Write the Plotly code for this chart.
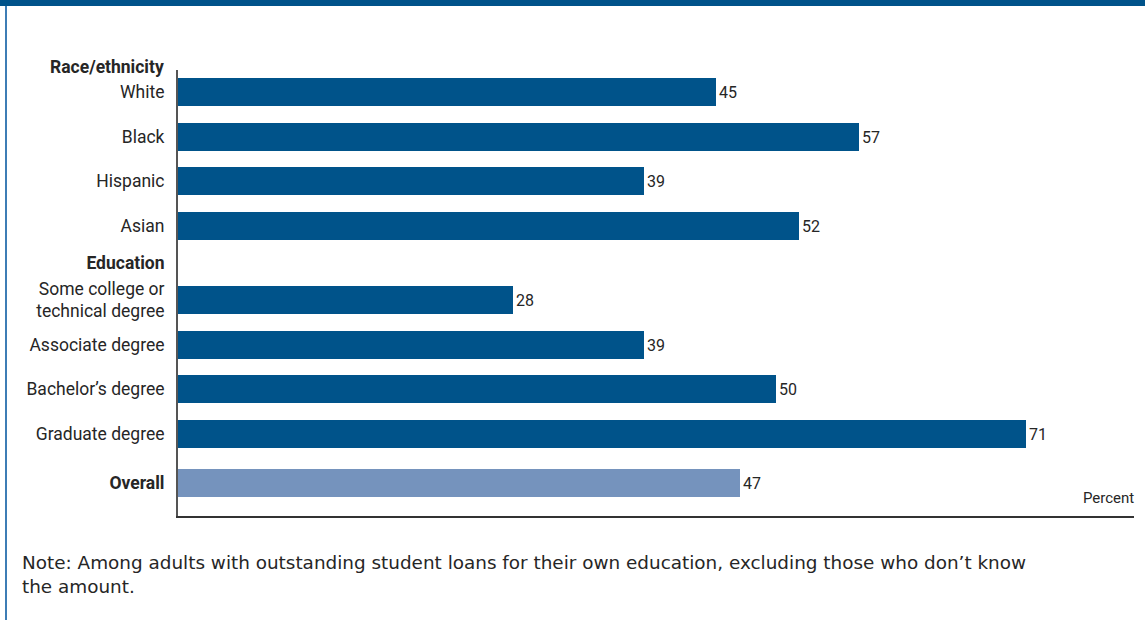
import plotly.graph_objects as go

# ---- data ----
race_labels = ["White", "Black", "Hispanic", "Asian"]
race_values = [45, 57, 39, 52]
edu_labels = ["Some college or<br>technical degree", "Associate degree", "Bachelor\u2019s degree", "Graduate degree"]
edu_values = [28, 39, 50, 71]
overall_label = "<b>Overall</b>"
overall_value = 47
group_titles = ["Race/ethnicity", "Education"]
unit_label = "Percent"
note_text = "Note: Among adults with outstanding student loans for their own education, excluding those who don\u2019t know<br>the amount."

# ---- layout helpers ----
W, H = 1145, 620
L, R, T, B = 178, 11, 70, 104
pw, ph = W - L - R, H - T - B

def px_x(p):
    return (p - L) / pw

def px_y(p):
    return (H - B - p) / ph

DARK = "#00538A"
LIGHT = "#7593BD"
TXT = "#262626"
LABEL_FONT = "Roboto, sans-serif"

race_pos = [i for i in range(len(race_labels))]
edu_start = len(race_labels) + 0.67
edu_pos = [edu_start + i for i in range(len(edu_labels))]
overall_pos = edu_pos[-1] + 1.11
edu_header_pos = race_pos[-1] + 0.84

fig = go.Figure()
fig.add_trace(go.Bar(
    x=race_values + edu_values, y=race_pos + edu_pos, orientation="h",
    marker=dict(color=DARK, line=dict(width=0)), width=0.63,
    text=[str(v) for v in race_values + edu_values], textposition="outside",
    textfont=dict(family=LABEL_FONT, size=16, color=TXT), cliponaxis=False,
    hoverinfo="skip"))
fig.add_trace(go.Bar(
    x=[overall_value], y=[overall_pos], orientation="h",
    marker=dict(color=LIGHT, line=dict(width=0)), width=0.63,
    text=[str(overall_value)], textposition="outside",
    textfont=dict(family=LABEL_FONT, size=16, color=TXT), cliponaxis=False,
    hoverinfo="skip"))

tickvals = race_pos + [edu_header_pos] + edu_pos + [overall_pos]
ticktext = race_labels + ["<b>" + group_titles[1] + "</b>"] + edu_labels + [overall_label]

fig.update_layout(
    width=W, height=H, margin=dict(l=L, r=R, t=T, b=B),
    paper_bgcolor="white", plot_bgcolor="white", showlegend=False,
    bargap=0,
    xaxis=dict(range=[0, 80], showgrid=False, zeroline=False, showticklabels=False,
               showline=True, linecolor="#333333", linewidth=2, ticks="", fixedrange=True),
    yaxis=dict(range=[overall_pos + 0.74, -0.494], showgrid=False, zeroline=False,
               tickmode="array", tickvals=tickvals, ticktext=ticktext,
               tickfont=dict(family=LABEL_FONT, size=17.5, color=TXT),
               showline=True, linecolor="#555555", linewidth=2, ticks="",
               ticklabelstandoff=8, fixedrange=True),
    font=dict(family=LABEL_FONT, color=TXT),
)

# group header above the plot
fig.add_annotation(text="<b>" + group_titles[0] + "</b>", xref="paper", yref="paper",
                   x=0, y=px_y(67), xanchor="right", yanchor="middle", xshift=-12,
                   showarrow=False, font=dict(family=LABEL_FONT, size=17.5, color=TXT))
# unit label
fig.add_annotation(text=unit_label, xref="paper", yref="paper", x=1, y=px_y(498),
                   xanchor="right", yanchor="middle", xshift=2, showarrow=False,
                   font=dict(family=LABEL_FONT, size=15, color=TXT))
# note
fig.add_annotation(text=note_text, xref="paper", yref="paper", x=px_x(20), y=px_y(550),
                   xanchor="left", yanchor="top", align="left", showarrow=False,
                   font=dict(family="DejaVu Sans, sans-serif", size=18.4, color=TXT))

# frame: top bar and left rule
fig.add_shape(type="rect", xref="paper", yref="paper", x0=px_x(0), x1=px_x(W),
              y0=px_y(6), y1=px_y(-2), fillcolor=DARK, line=dict(width=0), layer="above")
fig.add_shape(type="line", xref="paper", yref="paper", x0=px_x(6), x1=px_x(6),
              y0=px_y(6), y1=px_y(H + 2), line=dict(color="#3D7DB5", width=2))

fig.write_html("out.html")
